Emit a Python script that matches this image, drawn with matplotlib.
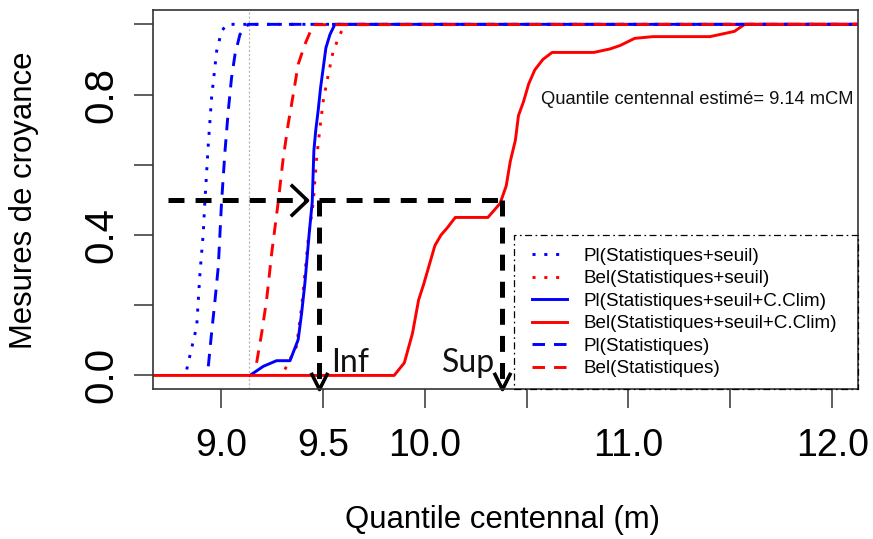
import matplotlib
matplotlib.use("Agg")
import matplotlib.pyplot as plt
from matplotlib.path import Path
from matplotlib.patches import Rectangle

# ---------------- data ----------------
# Pl(Statistiques+seuil)  (blue dotted)
pl_ss_x = [8.832, 8.881, 8.897, 8.913, 8.921, 8.938, 8.954, 8.979, 9.003, 9.028, 12.2]
pl_ss_y = [0.017, 0.140, 0.291, 0.404, 0.494, 0.659, 0.791, 0.924, 0.980, 1.0, 1.0]
# Bel(Statistiques+seuil)  (red dotted)
bel_ss_x = [9.314, 9.371, 9.396, 9.412, 9.428, 9.453, 9.470, 9.486, 9.502, 9.527, 9.551, 9.584, 9.608, 12.2]
bel_ss_y = [0.017, 0.083, 0.196, 0.291, 0.385, 0.494, 0.621, 0.706, 0.782, 0.858, 0.924, 0.971, 1.0, 1.0]
# Pl(Statistiques+seuil+C.Clim)  (blue solid)
pl_ssc_x = [9.142, 9.208, 9.273, 9.339, 9.379, 9.396, 9.412, 9.433, 9.448, 9.456, 9.465, 9.477,
            9.489, 9.502, 9.515, 9.535, 9.559, 12.2]
pl_ssc_y = [0.0, 0.026, 0.042, 0.042, 0.102, 0.178, 0.263, 0.404, 0.494, 0.640, 0.697, 0.754,
            0.820, 0.876, 0.933, 0.971, 1.0, 1.0]
# Bel(Statistiques+seuil+C.Clim)  (red solid)
bel_ssc_x = [8.6, 9.85, 9.90, 9.94, 9.97, 9.995, 10.03, 10.05, 10.08, 10.11, 10.15, 10.31, 10.37,
             10.40, 10.42, 10.445, 10.46, 10.485, 10.51, 10.54, 10.58, 10.625, 10.83, 10.91,
             10.96, 11.03, 11.12, 11.40, 11.44, 11.52, 11.57, 12.2]
bel_ssc_y = [0.0, 0.0, 0.036, 0.12, 0.215, 0.26, 0.33, 0.37, 0.40, 0.42, 0.45, 0.45, 0.49,
             0.54, 0.61, 0.67, 0.74, 0.78, 0.83, 0.87, 0.90, 0.92, 0.92, 0.93,
             0.94, 0.96, 0.965, 0.965, 0.97, 0.98, 1.0, 1.0]
# Pl(Statistiques)  (blue dashed)
pl_s_x = [8.938, 8.954, 8.971, 8.987, 9.003, 9.020, 9.036, 9.052, 9.069, 9.093, 9.134, 12.2]
pl_s_y = [0.026, 0.121, 0.215, 0.310, 0.494, 0.640, 0.754, 0.848, 0.914, 0.971, 1.0, 1.0]
# Bel(Statistiques)  (red dashed)
bel_s_x = [9.175, 9.200, 9.224, 9.249, 9.281, 9.306, 9.330, 9.355, 9.379, 9.412, 9.453, 12.2]
bel_s_y = [0.036, 0.121, 0.215, 0.348, 0.494, 0.621, 0.716, 0.801, 0.886, 0.943, 0.999, 1.0]

labels = ["Pl(Statistiques+seuil)", "Bel(Statistiques+seuil)",
          "Pl(Statistiques+seuil+C.Clim)", "Bel(Statistiques+seuil+C.Clim)",
          "Pl(Statistiques)", "Bel(Statistiques)"]

quantile_est = 9.14
level = 0.5
h_start, h_tip = 8.741, 9.42
inf_x, sup_x = 9.483, 10.379
v_tip_y = -0.04

xticks = [9.0, 9.5, 10.0, 10.5, 11.0, 11.5, 12.0]
xticklabels = ["9.0", "9.5", "10.0", "", "11.0", "", "12.0"]
yticks = [0.0, 0.2, 0.4, 0.6, 0.8, 1.0]
yticklabels = ["0.0", "", "0.4", "", "0.8", ""]

# ---------------- figure ----------------
plt.rcParams["lines.scale_dashes"] = False
BASE = ["Liberation Sans", "DejaVu Sans"]

fig = plt.figure(figsize=(8.73, 5.39), dpi=100)
ax = fig.add_axes([0.1756, 0.2774, 0.8076, 0.7035])
ax.set_xlim(8.668, 12.128)
ax.set_ylim(-0.04, 1.04)

lw = 2.1
dotted = (0, (2.2, 6.3))
dashed = (0, (9.0, 6.5))
blue, red = "#0000ff", "#ff0000"

ax.axvline(quantile_est, color="#b5b5b5", lw=0.9, ls=(0, (1.5, 1.5)))

l1, = ax.plot(pl_ss_x, pl_ss_y, color=blue, lw=lw, ls=dotted, dash_capstyle="butt")
l2, = ax.plot(bel_ss_x, bel_ss_y, color=red, lw=lw, ls=dotted, dash_capstyle="butt")
l3, = ax.plot(pl_ssc_x, pl_ssc_y, color=blue, lw=lw)
l4, = ax.plot(bel_ssc_x, bel_ssc_y, color=red, lw=lw)
l5, = ax.plot(pl_s_x, pl_s_y, color=blue, lw=lw, ls=dashed, dash_capstyle="butt")
l6, = ax.plot(bel_s_x, bel_s_y, color=red, lw=lw, ls=dashed, dash_capstyle="butt")

# black dashed arrows
alw = 3.6
ads = (0, (11.5, 8.0))
ax.plot([h_start, h_tip], [level, level], color="black", lw=alw, ls=ads, dash_capstyle="butt")
ax.plot([inf_x, sup_x], [level, level], color="black", lw=alw, ls=ads, dash_capstyle="butt")
ax.plot([inf_x, inf_x], [level, v_tip_y], color="black", lw=alw, ls=ads, dash_capstyle="butt",
        clip_on=False)
ax.plot([sup_x, sup_x], [level, v_tip_y], color="black", lw=alw, ls=ads, dash_capstyle="butt",
        clip_on=False)
right_head = Path([(-1, 0.95), (0, 0), (-1, -0.95)], [Path.MOVETO, Path.LINETO, Path.LINETO])
down_head = Path([(-1, 2.0), (0, 0), (1, 2.0)], [Path.MOVETO, Path.LINETO, Path.LINETO])
ax.plot([h_tip], [level], marker=right_head, ms=24, mfc="none", mec="black", mew=2.6, ls="none")
ax.plot([inf_x, sup_x], [v_tip_y, v_tip_y], marker=down_head, ms=24, mfc="none", mec="black",
        mew=2.6, ls="none", clip_on=False)

ax.text(9.543, 0.011, "Inf", fontsize=23, family=["Lato", "DejaVu Sans"], color="#111111",
        ha="left", va="baseline")
ax.text(10.083, 0.011, "Sup", fontsize=23, family=["Lato", "DejaVu Sans"], color="#111111",
        ha="left", va="baseline")

ax.text(11.337, 0.7745, "Quantile centennal estimé= 9.14 mCM", fontsize=13.2, family=BASE,
        ha="center", va="baseline", color="#111111")

# legend
ax.add_patch(Rectangle((0.5116, 0.0), 0.4884, 0.4074, transform=ax.transAxes, fill=False,
                       ec="black", lw=0.9, ls=(0, (5, 2.5, 1.2, 2.5)), clip_on=False, zorder=5))
ax.legend([l1, l2, l3, l4, l5, l6], labels, loc="center left", bbox_to_anchor=(0.5368, 0.2031),
          frameon=False, borderpad=0, borderaxespad=0, handlelength=1.85, handletextpad=0.88,
          labelspacing=0.28, prop={"family": BASE, "size": 13.6})

# axes styling
for s in ax.spines.values():
    s.set_color("#333333")
    s.set_linewidth(1.2)
ax.set_xticks(xticks)
ax.set_xticklabels(xticklabels, family=BASE, fontsize=27)
ax.set_yticks(yticks)
ax.set_yticklabels(yticklabels, family=BASE, fontsize=29, rotation=90, va="center")
ax.tick_params(axis="both", direction="out", length=14, width=1.1, color="#333333")
ax.tick_params(axis="x", pad=13.5)
ax.tick_params(axis="y", pad=9.5)

ax.set_xlabel("Quantile centennal (m)", fontsize=22.4, family=BASE, va="center")
ax.xaxis.set_label_coords(0.4953, -0.344)
ax.set_ylabel("Mesures de croyance", fontsize=22.4, family=BASE, va="center")
ax.yaxis.set_label_coords(-0.1834, 0.5)

fig.savefig("out.png", dpi=100)
